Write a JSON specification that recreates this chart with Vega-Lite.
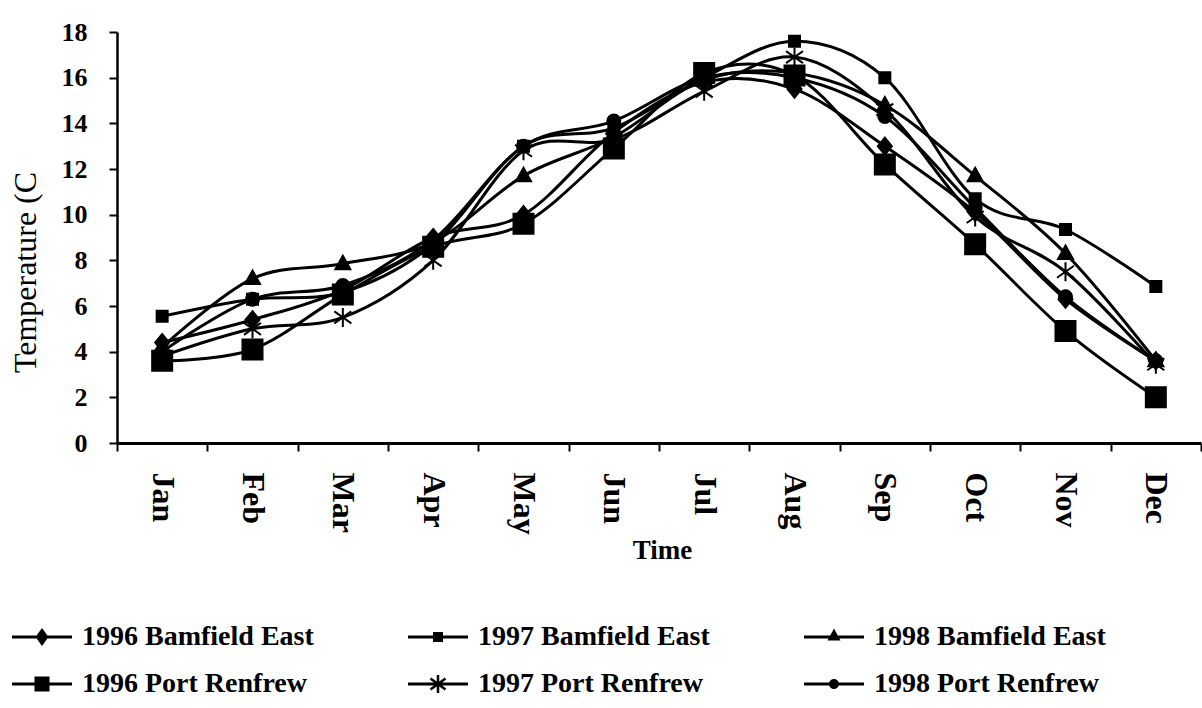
{
  "$schema": "https://vega.github.io/schema/vega-lite/v6.json",
  "background": "white",
  "autosize": {"type": "none"},
  "padding": {"left": 117, "top": 32, "right": 1, "bottom": 265},
  "width": 1084,
  "height": 411,
  "config": {
    "view": {"stroke": null},
    "font": "Liberation Serif",
    "axis": {
      "domainColor": "black",
      "tickColor": "black",
      "labelColor": "black",
      "titleColor": "black",
      "labelFont": "Liberation Serif",
      "titleFont": "Liberation Serif",
      "labelFontWeight": "bold",
      "grid": false
    }
  },
  "datasets": {
    "temps": [
      {"month": "Jan", "series": "1996 Bamfield East", "temp": 4.4},
      {"month": "Feb", "series": "1996 Bamfield East", "temp": 5.4},
      {"month": "Mar", "series": "1996 Bamfield East", "temp": 6.7},
      {"month": "Apr", "series": "1996 Bamfield East", "temp": 9.0},
      {"month": "May", "series": "1996 Bamfield East", "temp": 10.0},
      {"month": "Jun", "series": "1996 Bamfield East", "temp": 13.6},
      {"month": "Jul", "series": "1996 Bamfield East", "temp": 15.8},
      {"month": "Aug", "series": "1996 Bamfield East", "temp": 15.5},
      {"month": "Sep", "series": "1996 Bamfield East", "temp": 13.0},
      {"month": "Oct", "series": "1996 Bamfield East", "temp": 10.1},
      {"month": "Nov", "series": "1996 Bamfield East", "temp": 6.3},
      {"month": "Dec", "series": "1996 Bamfield East", "temp": 3.6},

      {"month": "Jan", "series": "1997 Bamfield East", "temp": 5.55},
      {"month": "Feb", "series": "1997 Bamfield East", "temp": 6.3},
      {"month": "Mar", "series": "1997 Bamfield East", "temp": 6.6},
      {"month": "Apr", "series": "1997 Bamfield East", "temp": 8.7},
      {"month": "May", "series": "1997 Bamfield East", "temp": 13.0},
      {"month": "Jun", "series": "1997 Bamfield East", "temp": 13.8},
      {"month": "Jul", "series": "1997 Bamfield East", "temp": 16.0},
      {"month": "Aug", "series": "1997 Bamfield East", "temp": 17.6},
      {"month": "Sep", "series": "1997 Bamfield East", "temp": 16.0},
      {"month": "Oct", "series": "1997 Bamfield East", "temp": 10.7},
      {"month": "Nov", "series": "1997 Bamfield East", "temp": 9.35},
      {"month": "Dec", "series": "1997 Bamfield East", "temp": 6.85},

      {"month": "Jan", "series": "1998 Bamfield East", "temp": 4.2},
      {"month": "Feb", "series": "1998 Bamfield East", "temp": 7.2},
      {"month": "Mar", "series": "1998 Bamfield East", "temp": 7.85},
      {"month": "Apr", "series": "1998 Bamfield East", "temp": 8.8},
      {"month": "May", "series": "1998 Bamfield East", "temp": 11.7},
      {"month": "Jun", "series": "1998 Bamfield East", "temp": 13.4},
      {"month": "Jul", "series": "1998 Bamfield East", "temp": 15.9},
      {"month": "Aug", "series": "1998 Bamfield East", "temp": 16.2},
      {"month": "Sep", "series": "1998 Bamfield East", "temp": 14.8},
      {"month": "Oct", "series": "1998 Bamfield East", "temp": 11.7},
      {"month": "Nov", "series": "1998 Bamfield East", "temp": 8.3},
      {"month": "Dec", "series": "1998 Bamfield East", "temp": 3.6},

      {"month": "Jan", "series": "1996 Port Renfrew", "temp": 3.6},
      {"month": "Feb", "series": "1996 Port Renfrew", "temp": 4.1},
      {"month": "Mar", "series": "1996 Port Renfrew", "temp": 6.5},
      {"month": "Apr", "series": "1996 Port Renfrew", "temp": 8.6},
      {"month": "May", "series": "1996 Port Renfrew", "temp": 9.6},
      {"month": "Jun", "series": "1996 Port Renfrew", "temp": 12.9},
      {"month": "Jul", "series": "1996 Port Renfrew", "temp": 16.2},
      {"month": "Aug", "series": "1996 Port Renfrew", "temp": 16.1},
      {"month": "Sep", "series": "1996 Port Renfrew", "temp": 12.2},
      {"month": "Oct", "series": "1996 Port Renfrew", "temp": 8.7},
      {"month": "Nov", "series": "1996 Port Renfrew", "temp": 4.9},
      {"month": "Dec", "series": "1996 Port Renfrew", "temp": 2.0},

      {"month": "Jan", "series": "1997 Port Renfrew", "temp": 3.8},
      {"month": "Feb", "series": "1997 Port Renfrew", "temp": 5.0},
      {"month": "Mar", "series": "1997 Port Renfrew", "temp": 5.5},
      {"month": "Apr", "series": "1997 Port Renfrew", "temp": 8.0},
      {"month": "May", "series": "1997 Port Renfrew", "temp": 12.8},
      {"month": "Jun", "series": "1997 Port Renfrew", "temp": 13.3},
      {"month": "Jul", "series": "1997 Port Renfrew", "temp": 15.4},
      {"month": "Aug", "series": "1997 Port Renfrew", "temp": 16.9},
      {"month": "Sep", "series": "1997 Port Renfrew", "temp": 14.6},
      {"month": "Oct", "series": "1997 Port Renfrew", "temp": 9.9},
      {"month": "Nov", "series": "1997 Port Renfrew", "temp": 7.5},
      {"month": "Dec", "series": "1997 Port Renfrew", "temp": 3.45},

      {"month": "Jan", "series": "1998 Port Renfrew", "temp": 4.0},
      {"month": "Feb", "series": "1998 Port Renfrew", "temp": 6.3},
      {"month": "Mar", "series": "1998 Port Renfrew", "temp": 6.9},
      {"month": "Apr", "series": "1998 Port Renfrew", "temp": 8.9},
      {"month": "May", "series": "1998 Port Renfrew", "temp": 13.0},
      {"month": "Jun", "series": "1998 Port Renfrew", "temp": 14.1},
      {"month": "Jul", "series": "1998 Port Renfrew", "temp": 16.0},
      {"month": "Aug", "series": "1998 Port Renfrew", "temp": 16.0},
      {"month": "Sep", "series": "1998 Port Renfrew", "temp": 14.3},
      {"month": "Oct", "series": "1998 Port Renfrew", "temp": 10.3},
      {"month": "Nov", "series": "1998 Port Renfrew", "temp": 6.4},
      {"month": "Dec", "series": "1998 Port Renfrew", "temp": 3.6}
    ]
  },
  "data": {"name": "temps"},
  "encoding": {
    "x": {
      "field": "month",
      "type": "ordinal",
      "bandPosition": 0.5,
      "sort": ["Jan","Feb","Mar","Apr","May","Jun","Jul","Aug","Sep","Oct","Nov","Dec"],
      "scale": {"type": "band", "paddingInner": 0, "paddingOuter": 0},
      "axis": {
        "title": "Time",
        "titleFontSize": 27,
        "titleFontWeight": "bold",
        "titleX": 545,
        "titleY": 107,
        "titleBaseline": "middle",
        "titleAlign": "center",
        "labelAngle": 90,
        "labelAlign": "left",
        "labelBaseline": "middle",
        "labelFontSize": 32,
        "labelPadding": 21,
        "tickBand": "extent",
        "tickSize": 8,
        "tickWidth": 2,
        "domainWidth": 3
      }
    },
    "y": {
      "field": "temp",
      "type": "quantitative",
      "scale": {"domain": [0, 18], "nice": false, "zero": true},
      "axis": {
        "title": "Temperature (C",
        "values": [0,2,4,6,8,10,12,14,16,18],
        "titleFontSize": 32,
        "titleFontWeight": "normal",
        "titleAngle": -90,
        "titleX": -92,
        "titleY": 240,
        "titleAlign": "center",
        "titleBaseline": "middle",
        "labelFontSize": 26,
        "labelPadding": 22,
        "tickSize": 8,
        "tickWidth": 2,
        "domainWidth": 2.5
      }
    }
  },
  "layer": [
    {
      "mark": {"type": "line", "interpolate": "cardinal", "tension": 0, "color": "black", "strokeWidth": 3},
      "encoding": {"detail": {"field": "series"}}
    },
    {
      "mark": {"type": "point", "filled": true, "fill": "black", "stroke": "black", "strokeWidth": 2, "opacity": 1, "size": 400},
      "encoding": {
        "shape": {
          "field": "series",
          "type": "nominal",
          "scale": {
            "domain": ["1996 Bamfield East","1997 Bamfield East","1998 Bamfield East","1996 Port Renfrew","1997 Port Renfrew","1998 Port Renfrew"],
            "range": [
              "M0,-0.85L0.7,0L0,0.85L-0.7,0Z",
              "M-0.55,-0.55H0.55V0.55H-0.55Z",
              "M0,-0.8L0.75,0.55H-0.75Z",
              "M-1,-1H1V1H-1Z",
              "M0,-0.95V0.95M-0.85,-0.6L0.85,0.6M-0.85,0.6L0.85,-0.6",
              "M0.65,0A0.65,0.65 0 1,1 -0.65,0A0.65,0.65 0 1,1 0.65,0Z"
            ]
          },
          "legend": null
        }
      }
    },
    {
      "mark": {"type": "point", "filled": true, "fill": "black", "opacity": 0},
      "encoding": {
        "shape": {
          "field": "series",
          "type": "nominal",
          "scale": {
            "domain": ["1996 Bamfield East","1997 Bamfield East","1998 Bamfield East","1996 Port Renfrew","1997 Port Renfrew","1998 Port Renfrew"],
            "range": [
              "M-1.2,-0.06H1.2V0.06H-1.2ZM0,-0.36L0.26,0L0,0.36L-0.26,0Z",
              "M-1.2,-0.06H1.2V0.06H-1.2ZM-0.2,-0.2H0.2V0.2H-0.2Z",
              "M-1.2,-0.06H1.2V0.06H-1.2ZM0,-0.34L0.26,0.14H-0.26Z",
              "M-1.2,-0.06H1.2V0.06H-1.2ZM-0.3,-0.3H0.3V0.3H-0.3Z",
              "M-1.2,-0.06H1.2V0.06H-1.2ZM-0.05,-0.36H0.05V0.36H-0.05ZM-0.27,-0.26L0.33,0.18L0.27,0.26L-0.33,-0.18ZM-0.27,0.26L-0.33,0.18L0.27,-0.26L0.33,-0.18Z",
              "M-1.2,-0.06H1.2V0.06H-1.2ZM0.2,0A0.2,0.2 0 1,1 -0.2,0A0.2,0.2 0 1,1 0.2,0Z"
            ]
          },
          "legend": {
            "title": null,
            "orient": "none",
            "legendX": -101,
            "legendY": 579,
            "direction": "horizontal",
            "columns": 3,
            "gridAlign": "all",
            "columnPadding": 91,
            "rowPadding": 7,
            "padding": 0,
            "symbolSize": 2500,
            "symbolFillColor": "black",
            "symbolOpacity": 1,
            "labelFont": "Liberation Serif",
            "labelFontSize": 28,
            "labelFontWeight": "bold",
            "labelColor": "black",
            "labelOffset": 14,
            "labelLimit": 400,
            "encode": {"symbols": {"opacity": {"value": 1}, "fill": {"value": "black"}}}
          }
        }
      }
    }
  ],
  "resolve": {"scale": {"shape": "independent"}}
}
